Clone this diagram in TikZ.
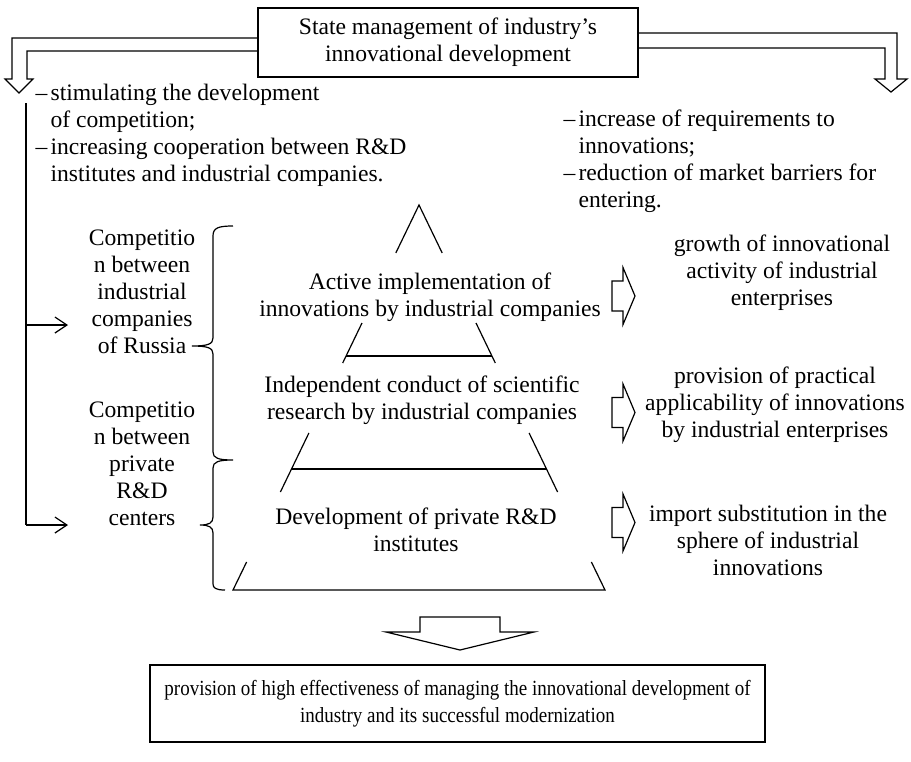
\documentclass[tikz,border=0pt]{standalone}
\usepackage{fontspec}
\setmainfont{Liberation Serif}
\newfontfamily\condensedfont[FakeStretch=0.88]{Liberation Serif}
\usetikzlibrary{arrows.meta}
\begin{document}
\begin{tikzpicture}[x=1pt,y=-1pt,line width=1.2pt,
  txt/.style={inner sep=0pt,align=center,font={\fontsize{23.6}{27}\selectfont}},
  ltxt/.style={inner sep=0pt,align=left,anchor=west,font={\fontsize{23.6}{27}\selectfont}},
  boxed/.style={draw,inner sep=0pt,align=center,font={\fontsize{23.6}{27}\selectfont}},
  hollow/.style={draw,line width=1.2pt,line join=miter},
  barb/.style={-{Straight Barb[length=12pt,width=16pt,line width=1.2pt]}},
  edge/.style={line width=1.2pt}]
\useasboundingbox (0,0) rectangle (911,761);

% top box
\node[boxed,minimum width=380pt,minimum height=69pt] (top) at (448,42.5)
  {State management of industry’s\\innovational development};

% hollow arrows from top box
\draw[hollow] ([yshift=4.5pt]top.west) -- (12,38) -- (12,79) -- (5,79) -- (19,93)
  -- (33,79) -- (27,79) -- (27,51) -- ([yshift=-8.5pt]top.west);
\draw[hollow] ([yshift=9.5pt]top.east) -- (897,33) -- (897,79) -- (907,79) -- (891,92)
  -- (875,79) -- (885,79) -- (885,48) -- ([yshift=-5.5pt]top.east);

% lists
\node[ltxt] (l1) at (35,135)
  {\makebox[15pt][l]{\textendash}stimulating the development\\
   \hspace*{15pt}of competition;\\
   \makebox[15pt][l]{\textendash}increasing cooperation between R\&D\\
   \hspace*{15pt}institutes and industrial companies.};
\node[ltxt] (l2) at (563,161)
  {\makebox[15pt][l]{\textendash}increase of requirements to\\
   \hspace*{15pt}innovations;\\
   \makebox[15pt][l]{\textendash}reduction of market barriers for\\
   \hspace*{15pt}entering.};

% left texts
\node[txt] (c1) at (142,292) {Competitio\\n between\\industrial\\companies\\of Russia};
\node[txt] (c2) at (142,464) {Competitio\\n between\\private\\R\&D\\centers};

% left connector
\coordinate (vt) at (26,103);
\coordinate (vm) at (26,325);
\coordinate (vb) at (26,525);
\coordinate (a1) at (68,325);
\coordinate (a2) at (68,525);
\draw (vt) -- (vb);
\draw[barb] (vm) -- (a1);
\draw[barb] (vb) -- (a2);

% brace
\draw (233,226) .. controls (218,226) and (213,228) .. (213,236)
  -- (213,338) .. controls (213,344) and (208,346) .. (192,346)
  .. controls (208,346) and (213,348) .. (213,354)
  -- (213,452) .. controls (213,458) and (218,460) .. (233,460)
  .. controls (218,460) and (213,462) .. (213,468)
  -- (213,517) .. controls (213,523) and (209,525) .. (200,525)
  .. controls (209,525) and (213,527) .. (213,533)
  -- (213,584) .. controls (213,588) and (216,590) .. (225,590);

% pyramid
\draw[edge] (395.8,253) -- (419,205) -- (442.2,253);
\draw[edge] (362,323) -- (342.7,363);
\draw[edge] (476,323) -- (495.3,363);
\draw[edge] (346.1,356) -- (491.9,356);
\draw[edge] (308.9,433) -- (280.4,492);
\draw[edge] (529.1,433) -- (557.6,492);
\draw[edge] (291.5,469) -- (546.5,469);
\draw[edge] (246.6,562) -- (233,590) -- (605,590) -- (591.4,562);

\node[txt] (p1) at (430,297) {Active implementation of\\innovations by industrial companies};
\node[txt] (p2) at (422,400) {Independent conduct of scientific\\research by industrial companies};
\node[txt] (p3) at (416,530) {Development of private R\&D\\institutes};

% right hollow arrows
\foreach \cy in {296,412.5,522.5}{
  \draw[hollow] (612,\cy-15) -- (623,\cy-15) -- (623,\cy-28.5) -- (635,\cy)
    -- (623,\cy+28.5) -- (623,\cy+15) -- (612,\cy+15) -- cycle;
}

% right texts
\node[txt] (r1) at (782,273) {growth of innovational\\activity of industrial\\enterprises};
\node[txt] (r2) at (775,405) {provision of practical\\applicability of innovations\\by industrial enterprises};
\node[txt] (r3) at (768,540) {import substitution in the\\sphere of industrial\\innovations};

% down hollow arrow
\draw[hollow] (420,617) -- (500,617) -- (500,632) -- (534,632) -- (460,650)
  -- (386,632) -- (420,632) -- cycle;

% bottom box
\node[draw,inner sep=0pt,align=center,font={\condensedfont\fontsize{21.6}{27}\selectfont},
  minimum width=615pt,minimum height=77pt] (bot) at (457.5,703.5)
  {provision of high effectiveness of managing the innovational development of\\industry and its successful modernization};
\end{tikzpicture}
\end{document}
